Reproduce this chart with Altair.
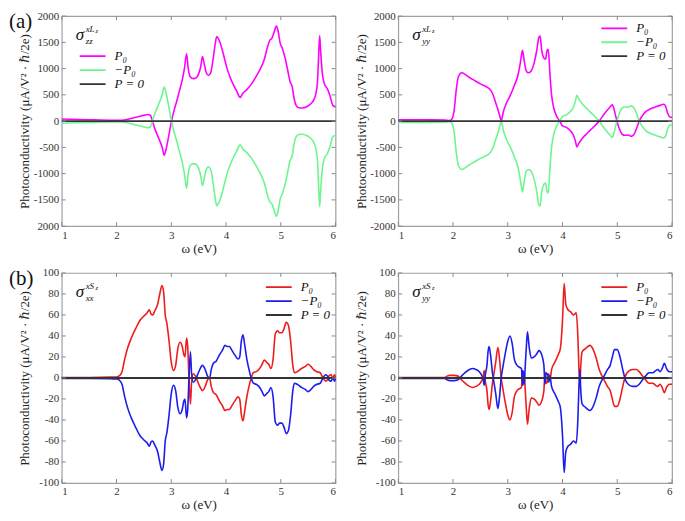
import altair as alt
import pandas as pd

FONT = "'Liberation Serif', 'DejaVu Serif', 'Times New Roman', serif"
SERIES = ["P₀", "−P₀", "P = 0"]
X_TICKS = [1, 2, 3, 4, 5, 6]

# ---------- (a) left : sigma^{xLz}_{zz} ----------
A1_X = [1.0, 1.3, 1.6, 1.9, 2.0, 2.1, 2.2, 2.3, 2.4, 2.5, 2.57, 2.61, 2.64, 2.67, 2.72, 2.78, 2.84, 2.87, 2.9,
        2.95, 3.0, 3.05, 3.1, 3.15, 3.2, 3.24, 3.28, 3.31, 3.35, 3.4, 3.45, 3.5, 3.54, 3.57, 3.6, 3.64, 3.68,
        3.72, 3.76, 3.8, 3.83, 3.87, 3.92, 3.97, 4.02, 4.08, 4.14, 4.2, 4.24, 4.26, 4.3, 4.38, 4.46, 4.55,
        4.62, 4.7, 4.76, 4.8, 4.84, 4.88, 4.92, 4.95, 4.99, 5.03, 5.08, 5.13, 5.17, 5.21, 5.24, 5.28, 5.33,
        5.4, 5.48, 5.55, 5.6, 5.64, 5.67, 5.69, 5.71, 5.73, 5.76, 5.8, 5.85, 5.9, 5.95, 6.0]
A1_P0 = [40, 32, 25, 18, 15, 18, 35, 60, 85, 110, 125, 115, 60, -50, -200, -350, -520, -650, -560,
         -300, -20, 200, 380, 580, 780, 1000, 1280, 1000, 840, 810, 820, 900, 1050, 1230, 1100, 920, 870,
         920, 1150, 1450, 1610, 1550, 1400, 1200, 1000, 820, 680, 560, 470, 450, 520, 600, 700, 850,
         980, 1180, 1420, 1540, 1580, 1700, 1810, 1720, 1480, 1380, 1200, 950, 750, 650, 450, 300, 255,
         250, 280, 330, 400, 520, 750, 1200, 1630, 1300, 900, 700, 620, 480, 300, 270]

# ---------- (a) right : sigma^{xLz}_{yy} ----------
A2_X = [1.0, 1.5, 1.85, 1.93, 1.98, 2.02, 2.06, 2.1, 2.16, 2.22, 2.3, 2.4, 2.5, 2.6, 2.66, 2.72, 2.77, 2.82,
        2.86, 2.88, 2.92, 2.97, 3.05, 3.12, 3.18, 3.22, 3.25, 3.27, 3.3, 3.34, 3.38, 3.43, 3.48, 3.53, 3.57,
        3.59, 3.62, 3.66, 3.69, 3.72, 3.74, 3.77, 3.8, 3.84, 3.9, 3.95, 4.0, 4.07, 4.13, 4.2, 4.24, 4.26,
        4.3, 4.36, 4.45, 4.55, 4.67, 4.78, 4.86, 4.91, 4.94, 4.97, 5.0, 5.04, 5.09, 5.14, 5.2, 5.25, 5.3,
        5.35, 5.4, 5.45, 5.52, 5.6, 5.7, 5.78, 5.85, 5.88, 5.92, 5.96, 6.0]
A2_P0 = [25, 25, 22, 10, 40, 200, 600, 850, 920, 890, 830, 770, 710, 660, 620, 530, 380, 220,
         80, 0, 180, 330, 500, 680, 850, 1050, 1250, 1350, 1150, 950, 920, 960, 1100, 1350, 1600,
         1620, 1350, 1200, 1180, 1350, 1370, 900, 500, 250, 80, 0, -90, -120, -170, -270, -400, -490,
         -420, -330, -230, -130, 0, 160, 260, 310, 230, 100, -20, -150, -250, -270, -265, -290, -260,
         -150, 0, 90, 180, 230, 270, 300, 320, 290, 150, 80, 70]

# ---------- (b) left : sigma^{xSz}_{xx} ----------
B1_X = [1.0, 1.5, 1.9, 2.0, 2.05, 2.1, 2.15, 2.2, 2.27, 2.35, 2.43, 2.5, 2.56, 2.6, 2.63, 2.66, 2.7, 2.75,
        2.79, 2.83, 2.86, 2.89, 2.92, 2.96, 3.0, 3.04, 3.08, 3.12, 3.16, 3.2, 3.23, 3.25, 3.28, 3.3, 3.32,
        3.35, 3.37, 3.4, 3.44, 3.48, 3.52, 3.57, 3.62, 3.66, 3.7, 3.73, 3.77, 3.82, 3.88, 3.94, 3.98, 4.02,
        4.06, 4.1, 4.16, 4.22, 4.25, 4.28, 4.31, 4.34, 4.38, 4.42, 4.46, 4.5, 4.55, 4.6, 4.65, 4.7, 4.74,
        4.78, 4.82, 4.86, 4.9, 4.94, 4.98, 5.02, 5.06, 5.1, 5.14, 5.18, 5.22, 5.25, 5.3, 5.38, 5.45, 5.5,
        5.55, 5.6, 5.66, 5.72, 5.77, 5.82, 5.85, 5.88, 5.92, 5.95, 5.98, 6.0]
B1_P0 = [0.5, 0.5, 0.8, 1, 2, 6, 18, 28, 38, 47, 55, 59, 62, 65, 61, 60, 64, 70,
         80, 88, 82, 60, 52, 35, 15, 7, 12, 28, 34, 30, 22, 20, 38, 30, 5,
         -25, -5, 4, 2, -3, -8, -12, -8, -2, 0, -8, -14, -16, -22, -27, -31, -30,
         -30, -27, -22, -18, -20, -35, -41, -32, -18, -8, 0, 5, 6, 8, 12, 17, 15,
         13, 9, 18, 42, 45, 43, 43, 47, 53, 50, 35, 12, 5, 6, 9, 11, 13,
         11, 8, 6, 5, 0, -3, -2, 2, 3, 0, 3, 1]

# ---------- (b) right : sigma^{xSz}_{yy} ----------
B2_X = [1.0, 1.5, 1.85, 1.9, 1.95, 2.02, 2.08, 2.12, 2.16, 2.22, 2.3, 2.36, 2.42, 2.48, 2.52, 2.55, 2.57,
        2.59, 2.62, 2.64, 2.66, 2.69, 2.72, 2.75, 2.78, 2.82, 2.85, 2.88, 2.91, 2.95, 3.0, 3.04, 3.08,
        3.12, 3.17, 3.22, 3.25, 3.27, 3.28, 3.3, 3.32, 3.34, 3.36, 3.39, 3.43, 3.48, 3.53, 3.57, 3.62,
        3.66, 3.68, 3.7, 3.73, 3.75, 3.77, 3.8, 3.86, 3.92, 3.96, 4.0, 4.03, 4.06, 4.1, 4.15, 4.2, 4.25,
        4.28, 4.3, 4.32, 4.33, 4.36, 4.42, 4.5, 4.56, 4.62, 4.67, 4.72, 4.77, 4.82, 4.87, 4.91, 4.95, 5.0,
        5.05, 5.1, 5.15, 5.2, 5.28, 5.35, 5.4, 5.46, 5.52, 5.58, 5.65, 5.7, 5.74, 5.78, 5.82, 5.86, 5.9,
        5.95, 6.0]
B2_P0 = [0.5, 0.5, 0.5, 2, 2.5, 2.5, 2, 0.5, -2, -5, -8, -9, -8, -6, -3, 1, 7,
         -3, -12, -25, -30, -20, -5, 5, 15, 29, 18, 0, -10, -22, -35, -40, -33,
         -18, -12, -10, -9, 7, -7, 6, -12, -30, -44, -30, -19, -20, -23, -26, -22,
         -12, 6, -5, -3, 4, -2, 8, 15, 22, 28, 55, 90, 70, 65, 63, 60, 62,
         40, 8, -8, 8, 25, 28, 31, 27, 18, 8, 2, -3, -8, -12, -20, -27, -27,
         -20, -8, 2, 6, 8, 8, 6, 2, -2, -5, -5, -7, -8, -6, -9, -14, -9,
         -6, -6]

A_COLORS = ["#ff00ff", "#6ff590", "#333333"]
B_COLORS = ["#ee1c1c", "#1c1cee", "#333333"]
A_YTICKS = [-2000, -1500, -1000, -500, 0, 500, 1000, 1500, 2000]
B_YTICKS = [-100, -80, -60, -40, -20, 0, 20, 40, 60, 80, 100]

W, H = 275, 211
YTITLE = "Photoconductivity (μA/V² · ℏ/2e)"


def panel(xs, p0, colors, yticks, sup, sub, leg_x, leg_y, letter=None, drop_min_sign=False):
    ymax = yticks[-1]
    df = pd.DataFrame({
        "x": xs * 2,
        "y": list(p0) + [-v for v in p0],
        "series": [SERIES[0]] * len(xs) + [SERIES[1]] * len(xs),
    })
    df0 = pd.DataFrame({"x": [1, 6], "y": [0, 0], "series": [SERIES[2]] * 2})

    if drop_min_sign:
        lab = ("datum.value == %d ? '%d' : (datum.value < 0 ? '-' + format(-datum.value, 'd') "
               ": format(datum.value, 'd'))" % (-ymax, ymax))
    else:
        lab = "datum.value < 0 ? '-' + format(-datum.value, 'd') : format(datum.value, 'd')"

    ax_common = dict(labelFont=FONT, labelFontSize=11, labelColor="#333",
                     titleFont=FONT, titleFontSize=13, titleFontWeight="normal", titleColor="#222",
                     grid=False, domain=False, ticks=False)
    x_enc = alt.X("x:Q", scale=alt.Scale(domain=[1, 6], nice=False, zero=False),
                  axis=alt.Axis(values=X_TICKS, format="d", title="ω (eV)",
                                labelPadding=3, titlePadding=2, **ax_common))
    y_enc = alt.Y("y:Q", scale=alt.Scale(domain=[-ymax, ymax], nice=False),
                  axis=alt.Axis(values=yticks, labelExpr=lab, title=YTITLE, labelPadding=3,
                                minExtent=27, maxExtent=27, titlePadding=3, **ax_common))
    legend = alt.Legend(orient="none", legendX=leg_x, legendY=leg_y, title=None,
                        symbolType="stroke", symbolSize=676, symbolStrokeWidth=1.8,
                        clipHeight=12.5, rowPadding=0, labelOffset=8, padding=0,
                        labelFont=FONT, labelFontSize=13, labelFontStyle="italic",
                        labelColor="#111")
    color = alt.Color("series:N", scale=alt.Scale(domain=SERIES, range=colors), legend=legend)

    layers = []
    for s in SERIES[:2]:
        layers.append(alt.Chart(df[df.series == s]).mark_line(
            strokeWidth=1.6, interpolate="monotone").encode(x=x_enc, y=y_enc, color=color))
    layers.append(alt.Chart(df0).mark_line(strokeWidth=2).encode(x=x_enc, y=y_enc, color=color))

    yt = pd.DataFrame({"y": yticks})
    xt = pd.DataFrame({"x": X_TICKS})
    tick_col = "#8a8a8a"
    layers.append(alt.Chart(yt).mark_rule(color=tick_col).encode(y=y_enc, x=alt.value(0), x2=alt.value(4)))
    layers.append(alt.Chart(yt).mark_rule(color=tick_col).encode(y=y_enc, x=alt.value(W - 4), x2=alt.value(W)))
    layers.append(alt.Chart(xt).mark_rule(color=tick_col).encode(x=x_enc, y=alt.value(H - 4), y2=alt.value(H)))
    layers.append(alt.Chart(xt).mark_rule(color=tick_col).encode(x=x_enc, y=alt.value(0), y2=alt.value(4)))

    one = pd.DataFrame({"k": [0]})
    layers.append(alt.Chart(one).mark_text(text="σ", font=FONT, fontSize=17, fontStyle="italic",
                                           align="left", baseline="middle", color="#111")
                  .encode(x=alt.value(14), y=alt.value(19)))
    layers.append(alt.Chart(one).mark_text(text=sup, font=FONT, fontSize=9, fontStyle="italic",
                                           align="left", baseline="middle", color="#111")
                  .encode(x=alt.value(24), y=alt.value(13)))
    layers.append(alt.Chart(one).mark_text(text="z", font=FONT, fontSize=6.5, fontStyle="italic",
                                           align="left", baseline="middle", color="#111")
                  .encode(x=alt.value(34), y=alt.value(15)))
    layers.append(alt.Chart(one).mark_text(text=sub, font=FONT, fontSize=9, fontStyle="italic",
                                           align="left", baseline="middle", color="#111")
                  .encode(x=alt.value(24), y=alt.value(25)))
    if letter:
        layers.append(alt.Chart(one).mark_text(text=letter, font=FONT, fontSize=21,
                                               align="left", baseline="top", color="#111")
                      .encode(x=alt.value(-53), y=alt.value(-5)))

    return alt.layer(*layers).properties(width=W, height=H)


pa1 = panel(A1_X, A1_P0, A_COLORS, A_YTICKS, "xL", "zz", 17, 34, letter="(a)", drop_min_sign=True)
pa2 = panel(A2_X, A2_P0, A_COLORS, A_YTICKS, "xL", "yy", 203, 6)
pb1 = panel(B1_X, B1_P0, B_COLORS, B_YTICKS, "xS", "xx", 204, 8, letter="(b)")
pb2 = panel(B2_X, B2_P0, B_COLORS, B_YTICKS, "xS", "yy", 203, 8)

chart = alt.concat(pa1, pa2, pb1, pb2, columns=2, spacing={"row": 47, "column": 63},
                   bounds="flush").resolve_scale(
    x="independent", y="independent", color="independent"
).configure(
    padding={"left": 0, "top": 0, "right": 0, "bottom": 0},
    background="white",
).configure_view(
    stroke="#a0a0a0", strokeWidth=1.2
)

chart.save("out.html", embed_options={"renderer": "svg", "actions": False})
